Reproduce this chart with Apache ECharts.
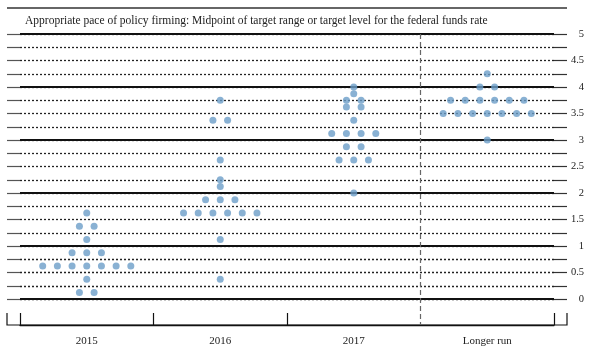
<!DOCTYPE html>
<html>
<head>
<meta charset="utf-8">
<script src="https://cdn.jsdelivr.net/npm/echarts@6/dist/echarts.min.js"></script>
<style>
  html, body { margin: 0; padding: 0; background: #fff; }
  #main { width: 593px; height: 354px; }
</style>
</head>
<body>
<div id="main"></div>
<script>
// categories on the bottom axis
var categories = ['2015', '2016', '2017', 'Longer run'];

// dot rows: rate level and how many participants put a dot there
var rates2015 = [1.625, 1.375, 1.125, 0.875, 0.625, 0.375, 0.125];
var counts2015 = [1, 2, 1, 3, 7, 1, 2];
var rates2016 = [3.75, 3.375, 2.625, 2.25, 2.125, 1.875, 1.625, 1.125, 0.375];
var counts2016 = [1, 2, 1, 1, 1, 3, 6, 1, 1];
var rates2017 = [4.0, 3.875, 3.75, 3.625, 3.375, 3.125, 2.875, 2.625, 2.0];
var counts2017 = [1, 1, 2, 2, 1, 4, 2, 3, 1];
var ratesLonger = [4.25, 4.0, 3.75, 3.5, 3.0];
var countsLonger = [1, 2, 6, 7, 1];

var title = 'Appropriate pace of policy firming: Midpoint of target range or target level for the federal funds rate';

var serif = '"Liberation Serif", "DejaVu Serif", serif';
var dotStep = 0.11; // horizontal spacing of dots, in category widths

var rows = [
  [rates2015, counts2015],
  [rates2016, counts2016],
  [rates2017, counts2017],
  [ratesLonger, countsLonger]
];

var points = [];
for (let i = 0; i < rows.length; i++) {
  let rates = rows[i][0];
  let counts = rows[i][1];
  for (let r = 0; r < rates.length; r++) {
    let n = counts[r];
    for (let j = 0; j < n; j++) {
      points.push([i + (j - (n - 1) / 2) * dotStep, rates[r]]);
    }
  }
}

var chart = echarts.init(document.getElementById('main'), null, {renderer: 'canvas'});

var tickStyle = {color: '#333', width: 1.2};

var options = {
  backgroundColor: '#fff',
  animation: false,
  title: {
    text: title,
    left: 20,
    top: 10,
    textStyle: {fontFamily: serif, fontSize: 11.5, fontWeight: 'normal', color: '#222'}
  },
  grid: [
    {left: 20, right: 39, top: 34, bottom: 55},
    {left: 20, right: 39, top: 313, height: 12}
  ],
  xAxis: [
    {
      type: 'value',
      gridIndex: 0,
      min: -0.5,
      max: 3.5,
      show: false
    },
    {
      type: 'category',
      gridIndex: 1,
      data: categories,
      position: 'bottom',
      boundaryGap: true,
      axisLine: {show: true, onZero: false, lineStyle: {color: '#111', width: 1.3}},
      axisTick: {
        show: true,
        inside: true,
        length: 12,
        lineStyle: {color: '#111', width: 1.2},
        interval: function (index) { return index !== 3; }
      },
      axisLabel: {margin: 11, color: '#222', fontFamily: serif, fontSize: 11},
      splitLine: {show: false}
    }
  ],
  yAxis: [
    {
      // right: dotted quarter lines, ticks and labels
      type: 'value',
      gridIndex: 0,
      position: 'right',
      min: 0,
      max: 5,
      interval: 0.25,
      axisLine: {show: false, onZero: false},
      axisTick: {show: true, length: 13, lineStyle: tickStyle},
      axisLabel: {
        margin: 30,
        align: 'right',
        color: '#222',
        fontFamily: serif,
        fontSize: 10.5,
        formatter: function (v) {
          return (Math.round(v * 4) % 2 === 0) ? String(v) : '';
        }
      },
      splitLine: {show: true, lineStyle: {color: '#222', width: 1.3, type: [2, 2]}}
    },
    {
      // solid lines at whole percents
      type: 'value',
      gridIndex: 0,
      position: 'left',
      min: 0,
      max: 5,
      interval: 1,
      axisLine: {show: false, onZero: false},
      axisTick: {show: false},
      axisLabel: {show: false},
      splitLine: {show: true, lineStyle: {color: '#111', width: 2.2, type: 'solid'}}
    },
    {
      // left ticks
      type: 'value',
      gridIndex: 0,
      position: 'left',
      min: 0,
      max: 5,
      interval: 0.25,
      axisLine: {show: false, onZero: false},
      axisTick: {show: true, length: 13, lineStyle: {color: '#555', width: 1.2}},
      axisLabel: {show: false},
      splitLine: {show: false}
    },
    {
      type: 'value',
      gridIndex: 1,
      show: false
    }
  ],
  series: [
    {
      name: 'dots',
      type: 'scatter',
      xAxisIndex: 0,
      yAxisIndex: 0,
      symbol: 'circle',
      symbolSize: 7,
      itemStyle: {color: '#6c9dc8'},
      data: points,
      z: 5
    }
  ]
};
chart.setOption(options);

// frame pieces outside the grid: top rule, bottom bracket ends, dashed divider
let gridRect = chart.getModel().getComponent('grid', 0).coordinateSystem.getRect();
let divX = chart.convertToPixel({xAxisIndex: 0}, 2.5);
let axisY = gridRect.y + gridRect.height + 26;
let leftX = gridRect.x - 13;
let rightX = gridRect.x + gridRect.width + 13;

chart.setOption({
  graphic: [
    {
      type: 'line',
      shape: {x1: leftX, y1: 8, x2: rightX, y2: 8},
      style: {stroke: '#333', lineWidth: 1.3}
    },
    {
      type: 'polyline',
      shape: {points: [[leftX, axisY - 12], [leftX, axisY], [rightX, axisY], [rightX, axisY - 12]]},
      style: {stroke: '#111', lineWidth: 1.2, fill: null}
    },
    {
      type: 'line',
      shape: {x1: divX, y1: gridRect.y, x2: divX, y2: axisY},
      style: {stroke: '#666', lineWidth: 1.2, lineDash: [5, 3]},
      z: 1
    }
  ]
});
</script>
</body>
</html>
